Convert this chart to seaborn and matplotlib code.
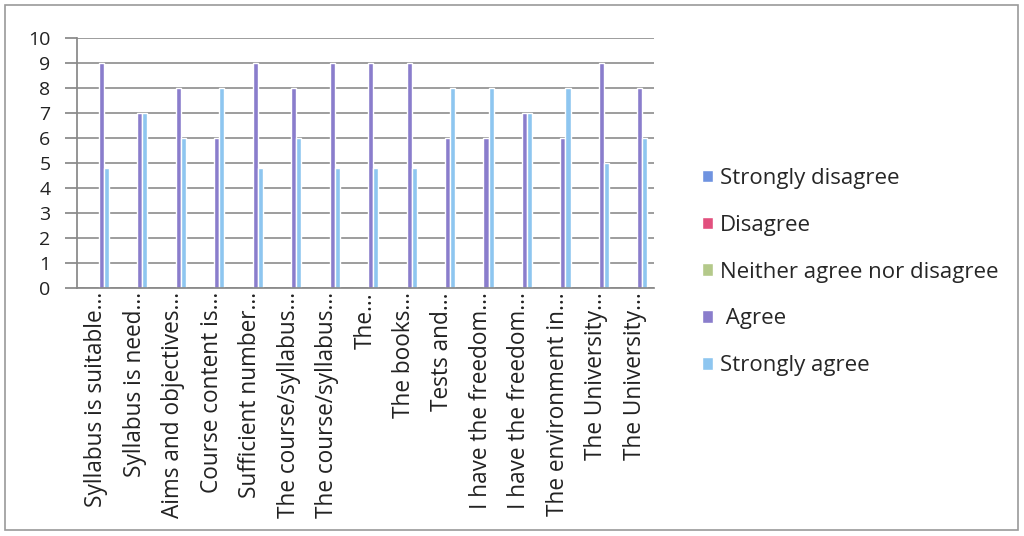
import matplotlib
matplotlib.use("Agg")
import matplotlib.pyplot as plt
import numpy as np
import pandas as pd
import seaborn as sns
from matplotlib.patches import Rectangle

# Data
items = ["Syllabus is suitable...", "Syllabus is need...", "Aims and objectives...",
         "Course content is...", "Sufficient number...", "The course/syllabus...",
         "The course/syllabus...", "The...", "The books...", "Tests and...",
         "I have the freedom...", "I have the freedom...", "The environment in...",
         "The University...", "The University..."]
series = ["Strongly disagree", "Disagree", "Neither agree nor disagree", " Agree", "Strongly agree"]
strongly_disagree = [0] * 15
disagree = [0] * 15
neither = [0] * 15
agree = [9, 7, 8, 6, 9, 8, 9, 9, 9, 6, 6, 7, 6, 9, 8]
strongly_agree = [4.8, 7, 6, 8, 4.8, 6, 4.8, 4.8, 4.8, 8, 8, 7, 8, 5, 6]
colors = ["#6f93e0", "#e2507e", "#b4c98a", "#8a7dcc", "#8ec6f0"]

rows = []
for name, vals in zip(series, [strongly_disagree, disagree, neither, agree, strongly_agree]):
    for i, v in enumerate(vals):
        rows.append({"item": i, "series": name, "value": v})
df = pd.DataFrame(rows)

sns.set_theme(style="white")
plt.rcParams["font.family"] = ["Open Sans", "DejaVu Sans"]

fig = plt.figure(figsize=(10.24, 5.36), dpi=100)
ax = fig.add_axes([0.0752, 0.4627, 0.5635, 0.4664])

sns.barplot(data=df, x="item", y="value", hue="series", hue_order=series,
            palette=colors, width=0.66, saturation=1, ax=ax, legend=True)

ax.set_ylim(0, 10)
ax.set_xlim(-0.5, len(items) - 0.5)
ax.set_yticks(range(0, 11))
ax.set_yticklabels([str(i) for i in range(0, 11)], fontsize=14, color="#222222")
ax.set_xticks(range(len(items)))
ax.set_xticklabels(items, rotation=90, fontsize=16.3, color="#222222")
ax.tick_params(axis="x", length=0, pad=3)
ax.set_xticks(np.arange(-0.5, len(items)), minor=True)
ax.tick_params(axis="x", which="minor", length=5, color="#888888", direction="out")
ax.tick_params(axis="y", length=9, color="#888888", direction="out", left=True, pad=10)
ax.set_xlabel("")
ax.set_ylabel("")
ax.yaxis.grid(True, color="#8c8c8c", linewidth=1.2)
ax.set_axisbelow(True)
for s in ["top", "right"]:
    ax.spines[s].set_visible(False)
ax.spines["left"].set_color("#888888")
ax.spines["bottom"].set_color("#888888")

handles, labels = ax.get_legend_handles_labels()
ax.get_legend().remove()
fig.legend(handles, labels, loc="center left", bbox_to_anchor=(0.666, 0.4925),
           frameon=False, fontsize=16, handlelength=0.5, handleheight=0.5,
           handletextpad=0.3, labelspacing=1.16)

fig.patches.append(Rectangle((0.005, 0.011), 0.989, 0.979, transform=fig.transFigure,
                             fill=False, edgecolor="#9a9a9a", linewidth=1.2))

fig.savefig("out.png", dpi=100, facecolor="white")
